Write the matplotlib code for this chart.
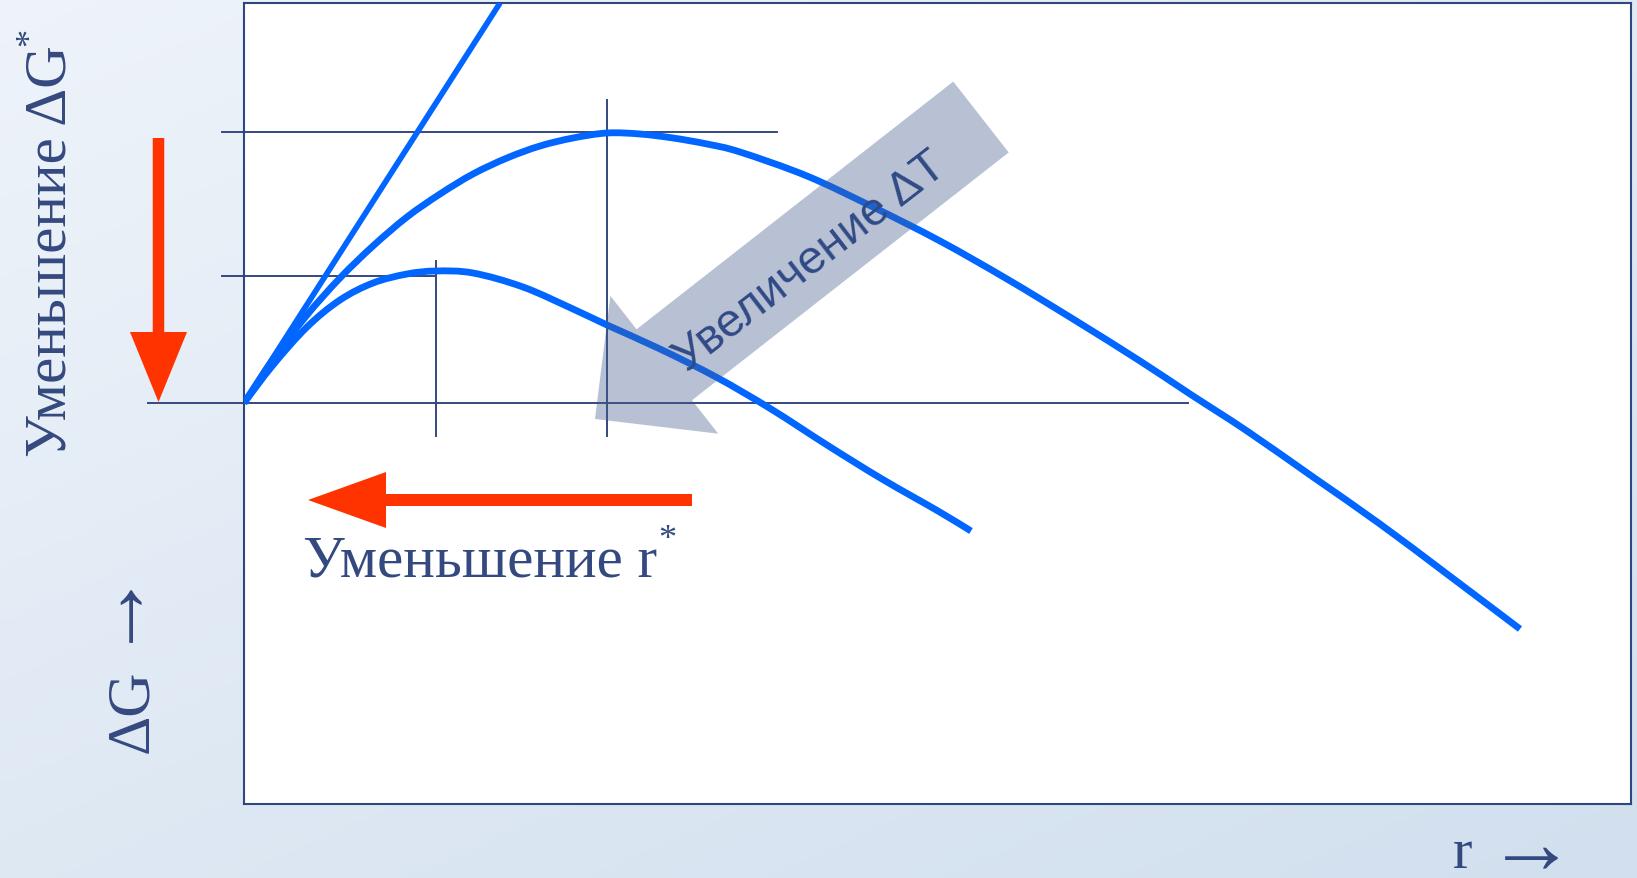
import matplotlib.pyplot as plt
import numpy as np
from matplotlib.patches import FancyArrow, PathPatch
from matplotlib.path import Path

# значения (единицы ~ пиксели от начала координат)
r_big = [0, 30, 63, 96, 129, 163, 196, 229, 263, 296, 329, 363, 396, 429,
         463, 496, 563, 629, 696, 763, 829, 896, 946, 1003, 1069, 1136, 1203, 1276]
g_big = [0, 45, 88, 125, 157, 186, 209, 229, 245, 257, 265, 270, 269, 265,
         259, 251, 227, 196, 162, 124, 84, 42, 9, -28, -74, -121, -171, -226]

r_small = [0, 29, 63, 96, 129, 163, 192, 229, 279, 329, 363, 416, 472, 527,
           583, 638, 694, 727]
g_small = [0, 38, 76, 103, 120, 129, 132, 130, 116, 94, 78, 54, 26, -6,
           -42, -76, -108, -128]

r_line = [0, 256]
g_line = [0, 400]

# критические значения
r_crit = [192, 363]
g_crit = [127, 271]

BLUE = '#0066ff'
NAVY = '#34497f'
RED = '#ff3300'
SERIF = ['Liberation Serif', 'DejaVu Serif']


def smooth(xs, ys):
    # гладкая кривая через точки (сплайн Катмулла-Рома -> Безье)
    p = np.column_stack([xs, ys]).astype(float)
    verts = [p[0]]
    codes = [Path.MOVETO]
    n = len(p)
    for i in range(n - 1):
        p0 = p[i - 1] if i > 0 else p[i]
        p3 = p[i + 2] if i + 2 < n else p[i + 1]
        verts += [p[i] + (p[i + 1] - p0) / 6, p[i + 1] - (p3 - p[i]) / 6, p[i + 1]]
        codes += [Path.CURVE4] * 3
    return Path(verts, codes)


fig = plt.figure(figsize=(16.37, 8.79), dpi=100)

# фон с градиентом
bg = fig.add_axes([0, 0, 1, 1], zorder=-5)
yy, xx = np.mgrid[0:1:200j, 0:1:200j]
t = 0.45 * xx + 0.55 * yy
c0 = np.array([0.935, 0.955, 0.98])
c1 = np.array([0.82, 0.875, 0.935])
bg.imshow(c0 + (c1 - c0) * t[..., None], extent=[0, 1, 0, 1], aspect='auto')
bg.axis('off')

ax = fig.add_axes([244 / 1637, 74 / 879, 1387 / 1637, 801 / 879])
ax.set_xlim(0, 1387)
ax.set_ylim(-401, 400)
ax.set_xticks([])
ax.set_yticks([])
ax.set_facecolor('white')
for s in ax.spines.values():
    s.set_color('#2e4780')
    s.set_linewidth(1.5)

# вспомогательные линии
lkw = dict(color=NAVY, lw=1.4, clip_on=False, zorder=2)
ax.plot([-96, 944], [0, 0], **lkw)
ax.plot([-22, 533], [g_crit[1], g_crit[1]], **lkw)
ax.plot([-22, r_crit[0]], [g_crit[0], g_crit[0]], **lkw)
ax.plot([r_crit[0], r_crit[0]], [-33, 142], **lkw)
ax.plot([r_crit[1], r_crit[1]], [-33, 303], **lkw)

# кривые
ax.plot(r_line, g_line, color=BLUE, lw=4.1, solid_capstyle='butt', zorder=3)
for xs, ys in [(r_big, g_big), (r_small, g_small)]:
    ax.add_patch(PathPatch(smooth(xs, ys), fill=False, edgecolor=BLUE,
                           lw=4.9, capstyle='butt', zorder=3))

# красные стрелки
ax.add_patch(FancyArrow(-85.5, 265, 0, -264, width=11.5, head_width=57,
                        head_length=70, length_includes_head=True,
                        color=RED, lw=0, clip_on=False, zorder=4))
ax.add_patch(FancyArrow(448, -97, -384, 0, width=12, head_width=56,
                        head_length=78, length_includes_head=True,
                        color=RED, lw=0, clip_on=False, zorder=4))

# серая стрелка
ax.add_patch(FancyArrow(737, 286, -386, -302, width=90, head_width=175,
                        head_length=88, length_includes_head=True,
                        facecolor='#455d8d', alpha=0.38, lw=0, zorder=5))
ax.text(567, 142, 'Увеличение ΔT', rotation=37.7, rotation_mode='anchor',
        ha='center', va='center', fontsize=34, color='#2f4a85',
        family=['Liberation Sans', 'DejaVu Sans'], zorder=6)

# подписи
t1 = ax.text(-179, -53, 'Уменьшение ΔG', rotation=90, rotation_mode='anchor',
             ha='left', va='baseline', fontsize=42.5, color=NAVY,
             family=SERIF, clip_on=False)
ax.annotate('*', xy=(0, 1), xycoords=t1, xytext=(5, 6),
            textcoords='offset points', ha='center', va='center',
            rotation=90, fontsize=26, color=NAVY, family=SERIF)
t2 = ax.text(59, -173, 'Уменьшение r', ha='left', va='baseline',
             fontsize=42.5, color=NAVY, family=SERIF, clip_on=False)
ax.annotate('*', xy=(1, 1), xycoords=t2, xytext=(7, -3),
            textcoords='offset points', ha='center', va='center',
            fontsize=26, color=NAVY, family=SERIF)
ax.text(-97, -349, 'ΔG', rotation=90, rotation_mode='anchor',
        ha='left', va='baseline', fontsize=44, color=NAVY,
        family=SERIF, clip_on=False)
ax.text(-137, -194, '→', rotation=90, ha='center', va='center',
        fontsize=64, color=NAVY, family=SERIF, clip_on=False)
ax.text(1209, -464, 'r', ha='left', va='baseline', fontsize=42,
        color=NAVY, family=SERIF, clip_on=False)
ax.text(1287, -447, '→', ha='center', va='center', fontsize=64,
        color=NAVY, family=SERIF, clip_on=False)

fig.savefig('out.png', dpi=100)
